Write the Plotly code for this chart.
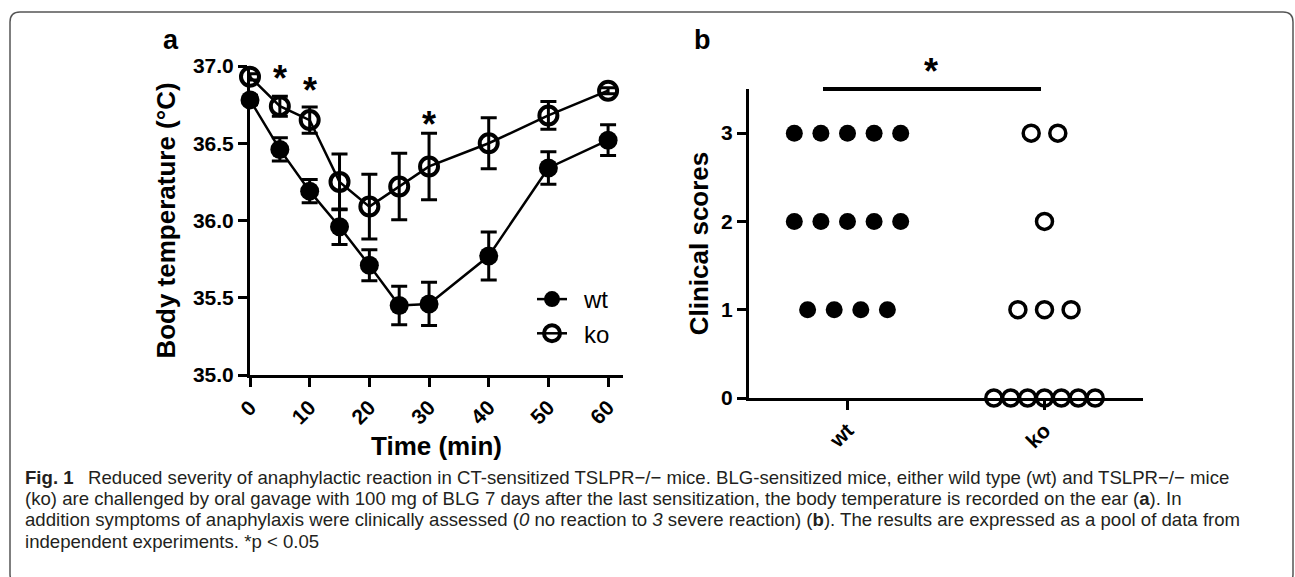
import plotly.graph_objects as go

# ---------------- data ----------------
time_min = [0, 5, 10, 15, 20, 25, 30, 40, 50, 60]
wt_mean = [36.78, 36.46, 36.19, 35.96, 35.71, 35.45, 35.46, 35.77, 36.34, 36.52]
wt_sem = [0.03, 0.075, 0.075, 0.115, 0.10, 0.125, 0.14, 0.155, 0.105, 0.10]
ko_mean = [36.93, 36.74, 36.65, 36.25, 36.09, 36.22, 36.35, 36.50, 36.68, 36.84]
ko_sem = [0.02, 0.065, 0.085, 0.18, 0.21, 0.215, 0.215, 0.165, 0.09, 0.02]

sig_times = [5, 10, 30]
sig_y = [36.97, 36.89, 36.67]

x_ticks_a = [0, 10, 20, 30, 40, 50, 60]
y_ticks_a = [35.0, 35.5, 36.0, 36.5, 37.0]

groups = ["wt", "ko"]
wt_scores = [3, 3, 3, 3, 3, 2, 2, 2, 2, 2, 1, 1, 1, 1]
ko_scores = [3, 3, 2, 1, 1, 1, 0, 0, 0, 0, 0, 0, 0]
y_ticks_b = [0, 1, 2, 3]

caption_lines = [
    "<b>Fig. 1</b>\u2002 Reduced severity of anaphylactic reaction in CT-sensitized TSLPR\u2212/\u2212 mice. BLG-sensitized mice, either wild type (wt) and TSLPR\u2212/\u2212 mice",
    "(ko) are challenged by oral gavage with 100 mg of BLG 7 days after the last sensitization, the body temperature is recorded on the ear (<b>a</b>). In",
    "addition symptoms of anaphylaxis were clinically assessed (<i>0</i> no reaction to <i>3</i> severe reaction) (<b>b</b>). The results are expressed as a pool of data from",
    "independent experiments. *p &lt; 0.05",
]

# ---------------- helpers ----------------
W, H = 1295, 577
FONT = "Liberation Sans, Arial, sans-serif"
CAP_FONT = "Liberation Sans, Arial, sans-serif"


def px(x):
    return x / W


def py(y):
    return 1 - y / H


def swarm(scores, center):
    xs = []
    levels = {}
    for s in scores:
        levels[s] = levels.get(s, 0) + 1
    seen = {}
    for s in scores:
        n = levels[s]
        k = seen.get(s, 0)
        seen[s] = k + 1
        step = 0.135 if n <= 5 else 0.6 / n
        xs.append(center + (k - (n - 1) / 2) * step)
    return xs


fig = go.Figure()

# panel a
fig.add_trace(go.Scatter(
    x=time_min, y=wt_mean, name="\u2002wt", mode="lines+markers",
    line=dict(color="black", width=2.5),
    marker=dict(symbol="circle", size=19, color="black"),
    error_y=dict(type="data", array=wt_sem, visible=True, color="black", thickness=3, width=8),
    cliponaxis=False, xaxis="x", yaxis="y",
))
fig.add_trace(go.Scatter(
    x=time_min, y=ko_mean, name="\u2002ko", mode="lines+markers",
    line=dict(color="black", width=2.5),
    marker=dict(symbol="circle-open", size=18, color="black", line=dict(width=4, color="black")),
    error_y=dict(type="data", array=ko_sem, visible=True, color="black", thickness=3, width=8),
    cliponaxis=False, xaxis="x", yaxis="y",
))

# panel b
fig.add_trace(go.Scatter(
    x=swarm(wt_scores, 0), y=wt_scores, mode="markers", showlegend=False,
    marker=dict(symbol="circle", size=17, color="black"),
    cliponaxis=False, xaxis="x2", yaxis="y2",
))
fig.add_trace(go.Scatter(
    x=swarm(ko_scores, 1), y=ko_scores, mode="markers", showlegend=False,
    marker=dict(symbol="circle-open", size=16, color="black", line=dict(width=3.5, color="black")),
    cliponaxis=False, xaxis="x2", yaxis="y2",
))

axis_common = dict(
    showline=True, linecolor="black", linewidth=3, ticks="outside", ticklen=9,
    tickwidth=3, tickcolor="black", showgrid=False, zeroline=False,
    tickfont=dict(family=FONT, size=21, color="black", weight="bold"),
    title_font=dict(family=FONT, size=26, color="black", weight="bold"),
)

fig.update_layout(
    width=W, height=H, margin=dict(l=0, r=0, t=0, b=0),
    template="none", paper_bgcolor="white", plot_bgcolor="rgba(0,0,0,0)",
    font=dict(family=FONT, color="black"),
    xaxis=dict(domain=[px(250), px(623)], range=[0, 62.5], tickvals=x_ticks_a,
               tickangle=-45, title=dict(text="Time (min)", standoff=10), anchor="y", **axis_common),
    yaxis=dict(domain=[py(375), py(66)], range=[35, 37], tickvals=y_ticks_a, tickformat=".1f",
               title=dict(text="Body temperature (°C)", standoff=10), anchor="x", **axis_common),
    xaxis2=dict(domain=[px(749), px(1143)], range=[-0.5, 1.5], tickvals=[0, 1], ticktext=groups,
                tickangle=-45, anchor="y2", **axis_common),
    yaxis2=dict(domain=[py(398), py(89)], range=[0, 3.5], tickvals=y_ticks_b,
                title=dict(text="Clinical scores", standoff=6), anchor="x2", **axis_common),
    legend=dict(x=px(532), y=py(277), xanchor="left", yanchor="top",
                font=dict(family=FONT, size=24, color="black"), bgcolor="rgba(0,0,0,0)",
                tracegroupgap=0),
    showlegend=True,
)

STAR = dict(family=FONT, size=36, color="black", weight="bold")

# significance asterisks panel a
for t, yv in zip(sig_times, sig_y):
    fig.add_annotation(x=t, y=yv, xref="x", yref="y", text="*", showarrow=False,
                       xanchor="center", yanchor="middle", font=STAR, yshift=-8)

# significance bar panel b (paper coords so it is not clipped)
fig.add_shape(type="line", xref="paper", yref="paper", x0=px(823), x1=px(1041), y0=py(89), y1=py(89),
              line=dict(color="black", width=4))
fig.add_annotation(x=px(931), y=py(64), xref="paper", yref="paper", text="*", showarrow=False,
                   xanchor="center", yanchor="middle", font=STAR, yshift=-8)

# panel letters
fig.add_annotation(x=px(171), y=py(40), xref="paper", yref="paper", text="a", showarrow=False,
                   xanchor="center", yanchor="middle",
                   font=dict(family=FONT, size=27, color="black", weight="bold"))
fig.add_annotation(x=px(702), y=py(40), xref="paper", yref="paper", text="b", showarrow=False,
                   xanchor="center", yanchor="middle",
                   font=dict(family=FONT, size=27, color="black", weight="bold"))

# caption
for line, yc in zip(caption_lines, [477, 498, 519, 541]):
    fig.add_annotation(x=px(23), y=py(yc), xref="paper", yref="paper", text=line,
                       showarrow=False, xanchor="left", yanchor="middle",
                       font=dict(family=CAP_FONT, size=18.6, color="#231f20"))

# rounded border
x0, y0, x1, y1, r = 10, 12, 1293, 584, 10
path = (f"M {px(x0)},{py(y0 + r)} Q {px(x0)},{py(y0)} {px(x0 + r)},{py(y0)} "
        f"L {px(x1 - r)},{py(y0)} Q {px(x1)},{py(y0)} {px(x1)},{py(y0 + r)} "
        f"L {px(x1)},{py(y1 - r)} Q {px(x1)},{py(y1)} {px(x1 - r)},{py(y1)} "
        f"L {px(x0 + r)},{py(y1)} Q {px(x0)},{py(y1)} {px(x0)},{py(y1 - r)} Z")
fig.add_shape(type="path", path=path, xref="paper", yref="paper",
              line=dict(color="#555555", width=1.5), layer="below")

fig.write_html("out.html", config={"displayModeBar": False},
               post_script="document.body.style.margin='0';document.body.style.overflow='hidden';")
